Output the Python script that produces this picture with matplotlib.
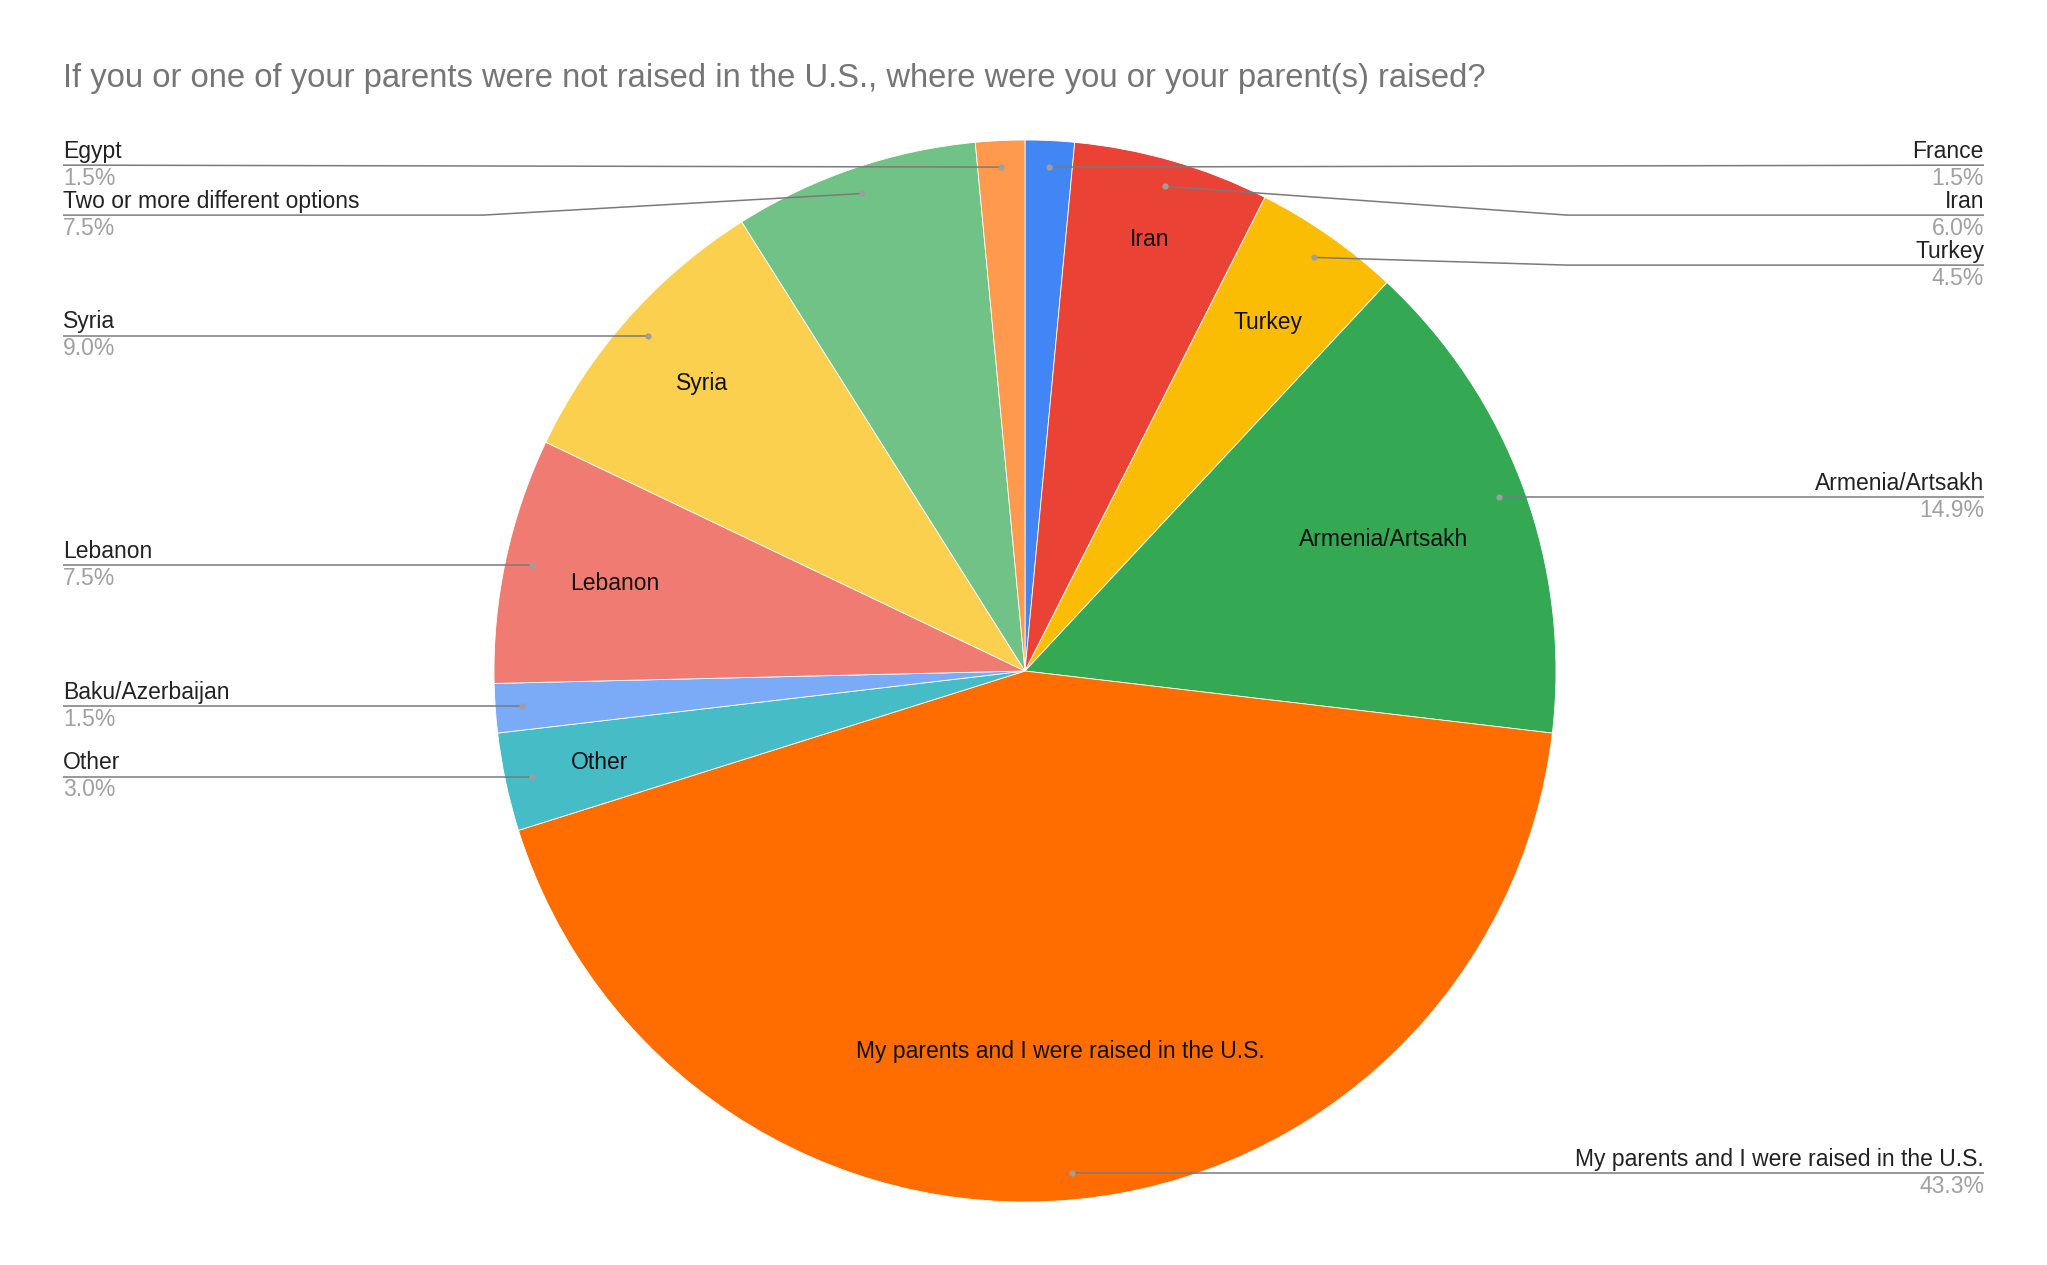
import numpy as np
import matplotlib.pyplot as plt

plt.rcParams['font.family'] = ['Liberation Sans', 'DejaVu Sans']

title = "If you or one of your parents were not raised in the U.S., where were you or your parent(s) raised?"
labels = ["France", "Iran", "Turkey", "Armenia/Artsakh", "My parents and I were raised in the U.S.",
          "Other", "Baku/Azerbaijan", "Lebanon", "Syria", "Two or more different options", "Egypt"]
counts = [1, 4, 3, 10, 29, 2, 1, 5, 6, 5, 1]
colors = ["#4285F4", "#EA4335", "#FBBC04", "#34A853", "#FF6D01",
          "#46BDC6", "#7BAAF7", "#F07B72", "#FCD04F", "#71C287", "#FF994D"]

# slices that get a label inside the pie, and how far out (fraction of radius)
inner_r = {"Iran": 0.845, "Turkey": 0.80, "Armenia/Artsakh": 0.72,
           "My parents and I were raised in the U.S.": 0.72,
           "Other": 0.82, "Lebanon": 0.79, "Syria": 0.815}

W, H = 2047, 1265
cx, cy, R = 1025, H - 671, 531
left_x, right_x = 63, 1984
gap = 50
fs = 16.5

fig = plt.figure(figsize=(W / 100, H / 100), dpi=100)
ax = fig.add_axes([0, 0, 1, 1])
wedges, _ = ax.pie(counts, colors=colors, startangle=90, counterclock=False,
                   center=(cx, cy), radius=R,
                   wedgeprops=dict(edgecolor='white', linewidth=0.6))
ax.set_xlim(0, W)
ax.set_ylim(0, H)
ax.axis('off')

total = sum(counts)
items = []
for w, lab, c in zip(wedges, labels, counts):
    mid = np.deg2rad((w.theta1 + w.theta2) / 2)
    share = c / total
    dx, dy = np.cos(mid), np.sin(mid)
    if lab in inner_r:
        rr = inner_r[lab]
        ax.text(cx + rr * R * dx, cy + rr * R * dy, lab, ha='center', va='center',
                fontsize=fs, color='#111111')
    px, py = cx + 0.95 * R * dx, cy + 0.95 * R * dy
    items.append((lab, share, px, py, dx >= 0))

# outside labels, stacked top to bottom on each side
for side in (True, False):
    group = sorted([it for it in items if it[4] == side], key=lambda t: -t[3])
    prev = None
    for lab, share, px, py, _ in group:
        ly = py + 2 if prev is None else min(py, prev - gap)
        prev = ly
        bend = abs(ly - py) > 3
        if side:
            bx, tx, ha = cx + R + 11, right_x, 'right'
        else:
            bx, tx, ha = cx - R - 11, left_x, 'left'
        xs = [px, bx, tx] if bend else [px, tx]
        ys = [py, ly, ly] if bend else [py, ly]
        ax.plot(xs, ys, color='#7a7a7a', lw=1.1, solid_capstyle='butt')
        ax.plot(px, py, 'o', color='#9e9e9e', ms=4.5, mec='none')
        ax.text(tx, ly + 14, lab, ha=ha, va='center', fontsize=fs, color='#222222')
        ax.text(tx, ly - 13, f"{share * 100:.1f}%", ha=ha, va='center', fontsize=fs,
                color='#a0a0a0')

ax.text(left_x, H - 79, title, ha='left', va='center', fontsize=23.6, color='#757575')

fig.savefig('out.png', dpi=100, facecolor='white')
